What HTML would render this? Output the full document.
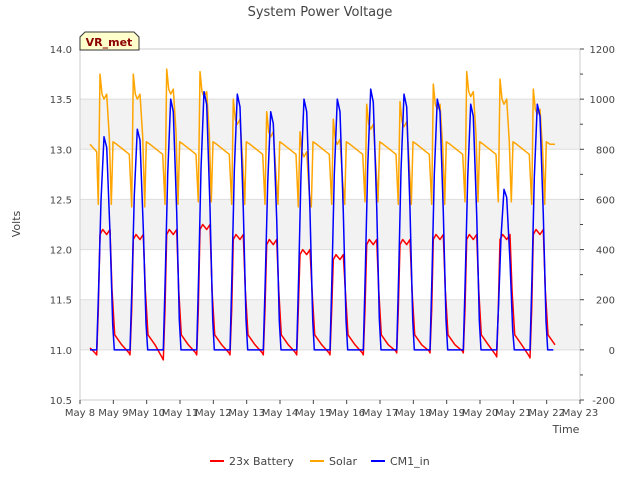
<!DOCTYPE html>
<html><head><meta charset="utf-8"><style>
body{margin:0;background:#fff;}
svg{font-family:"DejaVu Sans","Liberation Sans",sans-serif;}
</style></head><body>
<svg id="chart" width="640" height="480" viewBox="0 0 640 480">
<rect x="0" y="0" width="640" height="480" fill="#fff"/>
<g id="bands"></g>
<g id="grid"></g>
<rect x="80" y="49" width="500" height="351" fill="none" stroke="#ccc"/>
<g id="axes"></g>
<g id="series"></g>
<text x="320" y="16" text-anchor="middle" font-size="13" fill="#444">System Power Voltage</text>
<text x="20" y="224" text-anchor="middle" font-size="11" fill="#444" transform="rotate(-90 20 224)">Volts</text>
<text x="566" y="433" text-anchor="middle" font-size="11" fill="#444">Time</text>
<g>
<path d="M80,50 L80,37 L85,32 L134,32 L139,37 L139,50 Z" fill="#ffffcc" stroke="#333"/>
<text x="109" y="46" text-anchor="middle" font-size="11" font-weight="bold" fill="#8b0000">VR_met</text>
</g>
<g id="legend"></g>
</svg>
<script>
const days = [8,9,10,11,12,13,14,15,16,17,18,19,20,21];
const batteryPeak = [12.2,12.15,12.2,12.25,12.15,12.1,12.0,11.95,12.1,12.1,12.15,12.15,12.15,12.2];
const batteryMin = [10.95,10.95,10.9,10.95,10.95,10.95,10.95,10.95,10.95,10.97,10.97,10.97,10.93,10.92];
const solarPeak = [1100,1100,1120,1110,1000,950,870,920,980,990,1060,1110,1080,1040];
const solarLow = [580,570,580,590,580,580,570,580,590,580,580,590,590,580];
const solarNight = [820,820,820,820,820,820,820,820,820,820,820,820,820,820];
const cm1Peak = [850,880,1000,1030,1020,950,1000,1000,1040,1020,1000,980,640,980];
const xTicks = ["May 8","May 9","May 10","May 11","May 12","May 13","May 14","May 15","May 16","May 17","May 18","May 19","May 20","May 21","May 22","May 23"];
const yLeftTicks = [10.5,11.0,11.5,12.0,12.5,13.0,13.5,14.0];
const yRightTicks = [-200,0,200,400,600,800,1000,1200];

const X0=80,X1=580,Y0=400,Y1=49;
const xs=d=>X0+(d-8)*(X1-X0)/15;
const yl=v=>Y0-(v-10.5)*(Y0-Y1)/3.5;
const yr=v=>Y0-(v+200)*(Y0-Y1)/1400;
const NS="http://www.w3.org/2000/svg";
function mk(tag,attrs,parent){const e=document.createElementNS(NS,tag);for(const k in attrs)e.setAttribute(k,attrs[k]);parent.appendChild(e);return e;}
const bands=document.getElementById('bands'),grid=document.getElementById('grid'),axes=document.getElementById('axes'),ser=document.getElementById('series'),leg=document.getElementById('legend');
[[13.0,13.5],[12.0,12.5],[11.0,11.5]].forEach(b=>{const r=mk('rect',{x:X0,y:yl(b[1]),width:X1-X0,height:yl(b[0])-yl(b[1]),fill:'#f2f2f2'},bands);

});
yLeftTicks.forEach(v=>{const l=mk('line',{x1:X0,x2:X1,y1:yl(v),y2:yl(v),stroke:'#ddd'},grid);


const t=mk('text',{x:X0-8,y:yl(v)+4,'text-anchor':'end','font-size':'10',fill:'#444'},axes);t.textContent=v.toFixed(1);

});
yRightTicks.forEach((v,i)=>{const t=mk('text',{x:X1+35,y:yr(v)+4,'text-anchor':'end','font-size':'10',fill:'#444'},axes);t.textContent=v;


mk('line',{x1:X1,x2:X1+4,y1:yr(v),y2:yr(v),stroke:'#444'},axes);
if(i<yRightTicks.length-1)mk('line',{x1:X1,x2:X1+3,y1:yr(v+100),y2:yr(v+100),stroke:'#444'},axes);});
xTicks.forEach((s,i)=>{const t=mk('text',{x:xs(8+i),y:Y0+16,'text-anchor':'middle','font-size':'10',fill:'#444'},axes);t.textContent=s;


mk('line',{x1:xs(8+i),x2:xs(8+i),y1:Y0,y2:Y0+4,stroke:'#444'},axes);});

function line(pts,color,name){const p=mk('path',{d:'M'+pts.map(q=>q[0].toFixed(1)+','+q[1].toFixed(1)).join('L'),fill:'none',stroke:color,'stroke-width':'1.5','stroke-linejoin':'round'},ser);

}
// battery
let bp=[[8.3,11.02],[8.45,10.97]];
days.forEach((d,i)=>{const pk=batteryPeak[i],mn=batteryMin[i],nx=i+1<days.length?batteryMin[i+1]:10.97;
bp.push([d+0.5,mn],[d+0.55,11.4],[d+0.6,pk-0.05],[d+0.68,pk],[d+0.8,pk-0.05],[d+0.9,pk],[d+0.96,11.6],[d+1.04,11.15],[d+1.25,11.05]);
if(i+1<days.length)bp.push([d+1.47,nx+0.02]);});
bp=bp.map(q=>[xs(q[0]),yl(q[1])]);
// solar
let sp=[[8.3,820],[8.5,790]];
days.forEach((d,i)=>{const pk=solarPeak[i],lo=solarLow[i],nt=solarNight[i];
sp.push([d+0.55,lo],[d+0.6,pk],[d+0.66,pk-80],[d+0.72,pk-100],[d+0.8,pk-80],[d+0.88,pk-250],[d+0.94,lo],[d+0.99,nt+10],[d+1.1,nt]);
if(i<days.length-1)sp.push([d+1.48,nt-40]);else sp.push([d+1.25,nt]);});
sp=sp.map(q=>[xs(q[0]),yr(q[1])]);
// cm1
let cp=[[8.3,0]];
days.forEach((d,i)=>{const pk=cm1Peak[i];
cp.push([d+0.5,0],[d+0.56,pk*0.3],[d+0.63,pk*0.7],[d+0.72,pk],[d+0.8,pk*0.95],[d+0.9,pk*0.55],[d+0.98,pk*0.12],[d+1.03,0],[d+1.2,0]);});
cp=cp.map(q=>[xs(q[0]),yr(q[1])]);
line(sp,'orange','solar-line');
line(bp,'red','battery-line');
line(cp,'blue','cm1-in-line');
[['23x Battery','red',210],['Solar','orange',310],['CM1_in','blue',371]].forEach(e=>{const g=mk('g',{},leg);


mk('line',{x1:e[2],x2:e[2]+14,y1:461,y2:461,stroke:e[1],'stroke-width':'2'},g);
const t=mk('text',{x:e[2]+19,y:465,'font-size':'11',fill:'#444'},g);t.textContent=e[0];});
</script>
</body></html>
